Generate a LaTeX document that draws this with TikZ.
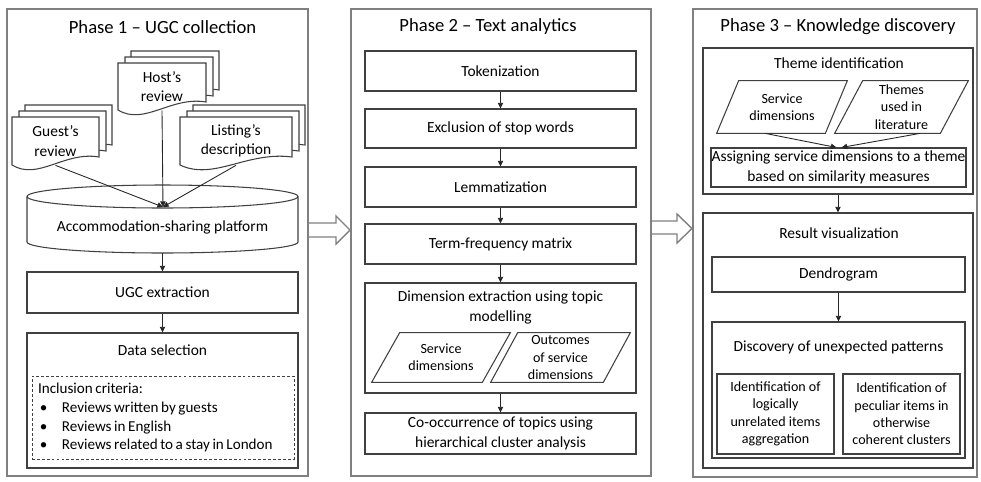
\documentclass[tikz,border=0pt]{standalone}
\usepackage{fontspec}
\setmainfont{Carlito}
\usetikzlibrary{calc,arrows.meta}

\newcommand{\pxu}{0.02cm}
\newcommand{\bul}{\makebox[13.6pt][l]{\hspace{1pt}\textbullet}}
\newcommand{\tightwords}{\spaceskip=0.17em\relax\hyphenpenalty=10000\relax}
% stack of three pages: left, top, width, height of the front page
\newcommand{\docstack}[4]{%
  \foreach \dx/\dy in {13/-12,7/-6,0/0}{%
    \draw[docline] ({#1+\dx},{#2+\dy}) -- ({#1+#3+\dx},{#2+\dy}) -- ({#1+#3+\dx},{#2+#4+\dy-8})
      .. controls ({#1+0.6*#3+\dx},{#2+#4+\dy-14}) and ({#1+0.3*#3+\dx},{#2+#4+\dy+16}) .. ({#1+\dx},{#2+#4+\dy}) -- cycle;}}
% data parallelogram round a node: name, slant
\newcommand{\slantbox}[2]{%
  \draw[docline, fill=none] (#1.south west) -- ($(#1.north west)+(#2,0)$) -- (#1.north east) -- ($(#1.south east)+(-#2,0)$) -- cycle;}

\begin{document}
\begin{tikzpicture}[x=\pxu, y=-\pxu,
  wh/.style 2 args={minimum width=#1*\pxu, minimum height=#2*\pxu},
  phase/.style={draw=black!50, line width=0.8pt, inner sep=0pt},
  box/.style={draw=black!75, line width=0.6pt, fill=white, inner sep=0pt, align=center, font=\fontsize{8.8}{11}\selectfont},
  small/.style={font=\fontsize{8}{9.9}\selectfont},
  data/.style={inner sep=0pt, align=center, small},
  ttl/.style={inner sep=0pt, font=\fontsize{10.6}{12.7}\selectfont},
  txt/.style={inner sep=0pt, align=center, font=\fontsize{8.8}{11}\selectfont},
  crit/.style={draw=black!75, line width=0.5pt, dash pattern=on 1.6pt off 1.2pt, inner sep=0.12cm, text width=5cm, align=left, font=\fontsize{8.6}{10.8}\selectfont},
  docline/.style={draw=black!75, line width=0.6pt, fill=white},
  arr/.style={-{Triangle[length=3.2pt,width=3pt]}, draw=black!85, line width=0.5pt},
  bigarr/.style={draw=black!50, line width=0.8pt}]
\useasboundingbox (0,0) rectangle (981,481);

% Phase 1
\node[phase, wh={301}{467}] (p1) at (157.5,242.5) {};
\node[ttl] (t1) at (162.5,27) {Phase 1 – UGC collection};
\docstack{118}{63}{88}{47}
\docstack{12}{117}{87}{48}
\docstack{180}{117}{112}{48}
\node[txt, wh={87}{48}] (guest) at (55.5,141) {Guest’s\\review};
\node[txt, wh={88}{47}] (host) at (162,86.5) {Host’s\\review};
\node[txt, wh={112}{48}] (listing) at (236,141) {Listing’s\\description};
\draw[docline] (27,196.5) -- (27,242) arc[start angle=180, end angle=0, x radius=135.5, y radius=11] -- (298,196.5);
\draw[docline] (162.5,196.5) ellipse [x radius=135.5, y radius=11.5];
\node[txt, wh={271}{52}] (plat) at (162.5,227) {Accommodation-sharing platform};
\coordinate (conv) at (163,207);
\draw[arr] (guest.south) -- (conv);
\draw[arr] (host.south) -- (conv);
\draw[arr] (listing.south) -- (conv);
\node[box, wh={271}{41}] (ugc) at (162.5,292.5) {UGC extraction};
\node[box, wh={271}{135}] (sel) at (162.5,400.5) {};
\node[txt] (selt) at (162.5,350) {Data selection};
\node[crit, wh={262}{83}] (crit) at (163,417.5) {\tightwords Inclusion criteria:\\\bul Reviews written by guests\\\bul Reviews in English\\\bul Reviews related to a stay in London};
\draw[arr] (plat.south) -- (ugc.north);
\draw[arr] (ugc) -- (sel);

% Phase 2
\node[phase, wh={300}{467}] (p2) at (501,242.5) {};
\node[ttl] (t2) at (488,27) {Phase 2 – Text analytics};
\node[box, wh={271}{40}] (tok) at (500.5,71) {Tokenization};
\node[box, wh={271}{39}] (stop) at (500.5,128.5) {Exclusion of stop words};
\node[box, wh={271}{40}] (lem) at (500.5,187) {Lemmatization};
\node[box, wh={271}{40}] (tfm) at (500.5,244) {Term-frequency matrix};
\node[box, wh={271}{110}] (dim) at (500.5,338) {};
\node[txt] (dimt) at (500.5,307.5) {Dimension extraction using topic\\modelling};
\node[data, wh={138}{49}] (sd2) at (441,357.5) {Service\\dimensions};
\node[data, wh={139}{49}] (oc2) at (560.5,357.5) {Outcomes\\of service\\dimensions};
\slantbox{sd2}{28}
\slantbox{oc2}{27}
\node[box, wh={271}{41}] (cooc) at (500.5,433.5) {Co-occurrence of topics using\\hierarchical cluster analysis};
\foreach \a/\b in {tok/stop,stop/lem,lem/tfm,tfm/dim,dim/cooc}
  \draw[arr] (\a) -- (\b);

% Phase 3
\node[phase, wh={284}{468}] (p3) at (835,243) {};
\node[ttl] (t3) at (838,27) {Phase 3 – Knowledge discovery};
\node[box, wh={270}{146}] (theme) at (838,121) {};
\node[txt] (themet) at (839,63) {Theme identification};
\node[data, wh={130}{52}] (sd3) at (782,107) {Service\\dimensions};
\node[data, wh={133}{52}] (lit3) at (901.5,107) {Themes\\used in\\literature};
\slantbox{sd3}{22}
\slantbox{lit3}{28}
\node[box, wh={255}{39}] (asg) at (838.5,167.5) {Assigning service dimensions to a theme\\based on similarity measures};
\draw[arr] ($(sd3.south west)!0.37!(sd3.south east)$) -- ($(asg.north)+(-2,0)$);
\draw[arr] ($(lit3.south west)!0.64!(lit3.south east)$) -- ($(asg.north)+(3,0)$);
\node[box, wh={270}{255}] (res) at (838,340.5) {};
\node[txt] (rest) at (839,233) {Result visualization};
\node[box, wh={253}{35}] (dend) at (838.5,274.5) {Dendrogram};
\node[box, wh={253}{136}] (disc) at (838.5,390) {};
\node[txt] (disct) at (838.5,347) {Discovery of unexpected patterns};
\node[box, small, wh={117}{80}] (unrel) at (775.5,414) {Identification of\\logically\\unrelated items\\aggregation};
\node[box, small, wh={117}{80}] (pecul) at (901.5,414) {Identification of\\peculiar items in\\otherwise\\coherent clusters};
\draw[arr] (theme) -- (res);
\draw[arr] (dend) -- (disc);

% block arrows between the phases
\draw[bigarr] (308,223) -- (336,223) -- (336,216) -- (350,230) -- (336,244) -- (336,237) -- (308,237);
\draw[bigarr] (651,221) -- (677,221) -- (677,214) -- (692,228.5) -- (677,243) -- (677,234) -- (651,234);
\end{tikzpicture}
\end{document}
